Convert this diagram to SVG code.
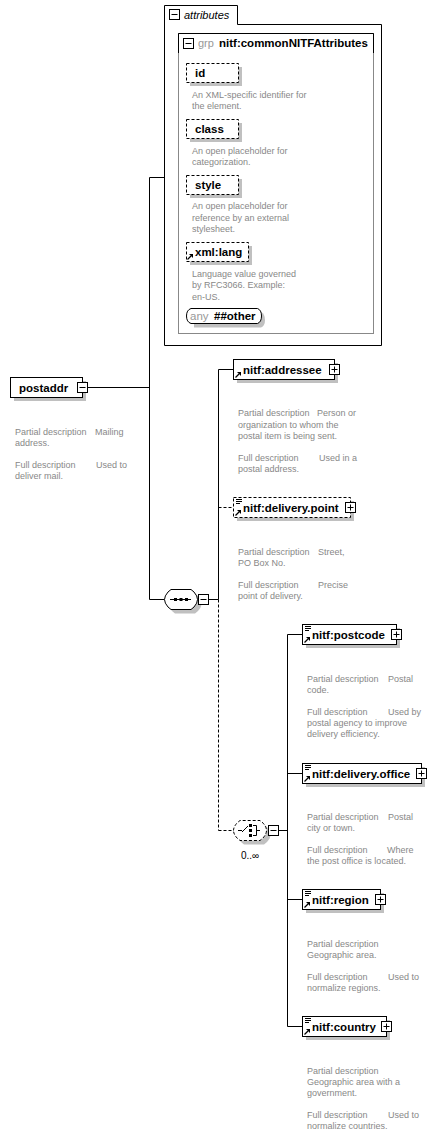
<svg xmlns="http://www.w3.org/2000/svg" width="437" height="1147" viewBox="0 0 437 1147">
<style>
.box{fill:#fff;stroke:#000;stroke-width:1}
.dbox{fill:#fff;stroke:#000;stroke-width:1;stroke-dasharray:3,2}
.sh{fill:#c0c0c0}
.lbl{font-family:"Liberation Sans",Arial,sans-serif;font-weight:bold;font-size:11.5px;fill:#000}
.desc{font-family:"Liberation Sans",Arial,sans-serif;font-size:9px;fill:#888}
.gry{font-family:"Liberation Sans",Arial,sans-serif;font-size:11px;fill:#999}
.ln{stroke:#000;stroke-width:1;fill:none}
.dl{stroke:#000;stroke-width:1;fill:none;stroke-dasharray:3,2}
</style>
<defs>
<g id="minus"><rect x="0.5" y="0.5" width="10" height="10" fill="#fff" stroke="#000"/><line x1="2.5" y1="5.5" x2="8.5" y2="5.5" stroke="#000"/></g>
<g id="plus"><rect x="0.5" y="0.5" width="10" height="10" fill="#fff" stroke="#000"/><line x1="2.5" y1="5.5" x2="8.5" y2="5.5" stroke="#000"/><line x1="5.5" y1="2.5" x2="5.5" y2="8.5" stroke="#000"/></g>
<g id="ref"><line x1="0.5" y1="6.5" x2="4" y2="3" stroke="#000" stroke-width="1.2"/><path d="M2,1 L6,1 L6,5 Z" fill="#000"/></g>
<g id="simp" stroke="#000" stroke-width="1"><line x1="0" y1="0.5" x2="6" y2="0.5"/><line x1="0" y1="2.5" x2="6" y2="2.5"/><line x1="0" y1="4.5" x2="4" y2="4.5"/></g>
</defs>

<g id="connectors">
<line class="ln" x1="87" y1="387.5" x2="149.5" y2="387.5"/>
<line class="ln" x1="149.5" y1="177.5" x2="149.5" y2="599.5"/>
<line class="ln" x1="149.5" y1="177.5" x2="164.5" y2="177.5"/>
<line class="ln" x1="149.5" y1="599.5" x2="164.5" y2="599.5"/>
<line class="ln" x1="209" y1="599.5" x2="218.5" y2="599.5"/>
<line class="ln" x1="218.5" y1="369.5" x2="218.5" y2="599.5"/>
<line class="ln" x1="218.5" y1="369.5" x2="233.5" y2="369.5"/>
<line class="dl" x1="218.5" y1="507.5" x2="233.5" y2="507.5"/>
<line class="dl" x1="218.5" y1="599.5" x2="218.5" y2="830.5"/>
<line class="dl" x1="218.5" y1="830.5" x2="233.5" y2="830.5"/>
<line class="ln" x1="278" y1="830.5" x2="287.5" y2="830.5"/>
<line class="ln" x1="287.5" y1="634.5" x2="287.5" y2="1026.5"/>
<line class="ln" x1="287.5" y1="634.5" x2="302.5" y2="634.5"/>
<line class="ln" x1="287.5" y1="773.5" x2="302.5" y2="773.5"/>
<line class="ln" x1="287.5" y1="899.5" x2="302.5" y2="899.5"/>
<line class="ln" x1="287.5" y1="1026.5" x2="302.5" y2="1026.5"/>
</g>

<g id="attributes">
<path class="box" d="M164.5,345.5 V5.5 H237.5 V24.5 H381.5 V345.5 Z"/>
<use href="#minus" x="169" y="9"/>
<text x="184" y="19" style="font-family:'Liberation Sans',Arial,sans-serif;font-size:11px;font-style:italic;fill:#000">attributes</text>
</g>

<g id="grp-commonNITFAttributes">
<rect x="178.5" y="33.5" width="195" height="300" fill="#fff" stroke="#888"/>
<path class="ln" d="M178.5,53 V33.5 H373.5 V53"/>
<use href="#minus" x="183" y="38"/>
<text class="gry" x="198" y="47">grp</text>
<text class="lbl" x="219" y="47">nitf:commonNITFAttributes</text>
</g>

<g id="attr-id">
<rect class="sh" x="190" y="67" width="52" height="19"/>
<rect class="dbox" x="186.5" y="63.5" width="52" height="19"/>
<text class="lbl" x="195" y="77">id</text>
<text class="desc"><tspan x="192" y="98">An XML-specific identifier for</tspan><tspan x="192" y="109">the element.</tspan></text>
</g>

<g id="attr-class">
<rect class="sh" x="190" y="123" width="52" height="19"/>
<rect class="dbox" x="186.5" y="119.5" width="52" height="19"/>
<text class="lbl" x="195" y="133">class</text>
<text class="desc"><tspan x="192" y="154">An open placeholder for</tspan><tspan x="192" y="165">categorization.</tspan></text>
</g>

<g id="attr-style">
<rect class="sh" x="190" y="179" width="52" height="19"/>
<rect class="dbox" x="186.5" y="175.5" width="52" height="19"/>
<text class="lbl" x="195" y="189">style</text>
<text class="desc"><tspan x="192" y="209">An open placeholder for</tspan><tspan x="192" y="221">reference by an external</tspan><tspan x="192" y="232">stylesheet.</tspan></text>
</g>

<g id="attr-xmllang">
<rect class="sh" x="190" y="246" width="62" height="19"/>
<rect class="dbox" x="186.5" y="242.5" width="62" height="19"/>
<use href="#ref" x="187" y="253"/>
<text class="lbl" x="195" y="256">xml:lang</text>
<text class="desc"><tspan x="192" y="277">Language value governed</tspan><tspan x="192" y="288">by RFC3066. Example:</tspan><tspan x="192" y="300">en-US.</tspan></text>
</g>

<g id="any-other">
<path class="sh" d="M194,312 H261 Q265,314 265,320 Q265,326 261,327.5 H194 Z"/>
<path class="box" d="M191,308.5 H257.5 Q261.5,310 261.5,316 Q261.5,322 257.5,323.5 H191 Q186.5,322 186.5,316 Q186.5,310 191,308.5 Z"/>
<text class="gry" x="190" y="320" style="font-size:11.5px">any</text>
<text class="lbl" x="214" y="320">##other</text>
</g>

<g id="postaddr">
<rect class="sh" x="14" y="381" width="72" height="20"/>
<rect class="box" x="10.5" y="377.5" width="72" height="20"/>
<text class="lbl" x="19" y="392">postaddr</text>
<use href="#minus" x="77" y="382"/>
<text class="desc"><tspan x="15" y="435">Partial description</tspan><tspan x="95" y="435">Mailing</tspan><tspan x="15" y="446">address.</tspan><tspan x="15" y="468">Full description</tspan><tspan x="96" y="468">Used to</tspan><tspan x="15" y="479">deliver mail.</tspan></text>
</g>

<g id="sequence">
<path class="sh" d="M168.5,603.5 Q168.5,600 172,596 L175,593.5 H195 L198,596 Q201.5,600 201.5,603.5 Q201.5,607 198,611 L195,613.5 H175 L172,611 Q168.5,607 168.5,603.5 Z"/>
<path class="box" d="M164.5,599.5 Q164.5,596 168,592 L171,589.5 H191 L194,592 Q197.5,596 197.5,599.5 Q197.5,603 194,607 L191,609.5 H171 L168,607 Q164.5,603 164.5,599.5 Z"/>
<line class="ln" x1="170" y1="599.5" x2="191" y2="599.5"/>
<rect x="174" y="598" width="3" height="3" fill="#000"/>
<rect x="179.5" y="598" width="3" height="3" fill="#000"/>
<rect x="185" y="598" width="3" height="3" fill="#000"/>
<use href="#minus" x="198" y="594"/>
</g>

<g id="addressee">
<rect class="sh" x="237" y="363" width="101" height="20"/>
<rect class="box" x="233.5" y="359.5" width="101" height="20"/>
<use href="#ref" x="235" y="371"/>
<text class="lbl" x="243" y="374">nitf:addressee</text>
<use href="#plus" x="329" y="364"/>
<text class="desc"><tspan x="238" y="416">Partial description</tspan><tspan x="317" y="416">Person or</tspan><tspan x="238" y="428">organization to whom the</tspan><tspan x="238" y="439">postal item is being sent.</tspan><tspan x="238" y="461">Full description</tspan><tspan x="319" y="461">Used in a</tspan><tspan x="238" y="472">postal address.</tspan></text>
</g>

<g id="delivery-point">
<rect class="sh" x="237" y="501" width="117" height="20"/>
<rect class="dbox" x="233.5" y="497.5" width="117" height="20"/>
<use href="#simp" x="236" y="499"/>
<use href="#ref" x="235" y="509"/>
<text class="lbl" x="243" y="512">nitf:delivery.point</text>
<use href="#plus" x="345" y="502"/>
<text class="desc"><tspan x="238" y="555">Partial description</tspan><tspan x="318" y="555">Street,</tspan><tspan x="238" y="566">PO Box No.</tspan><tspan x="238" y="588">Full description</tspan><tspan x="318" y="588">Precise</tspan><tspan x="238" y="599">point of delivery.</tspan></text>
</g>

<g id="choice">
<path class="sh" d="M237.5,834.5 Q237.5,831 241,827 L244,824.5 H264 L267,827 Q270.5,831 270.5,834.5 Q270.5,838 267,842 L264,844.5 H244 L241,842 Q237.5,838 237.5,834.5 Z"/>
<path class="dbox" d="M233.5,830.5 Q233.5,827 237,823 L240,820.5 H260 L263,823 Q266.5,827 266.5,830.5 Q266.5,834 263,838 L260,840.5 H240 L237,838 Q233.5,834 233.5,830.5 Z"/>
<line class="ln" x1="238" y1="830.5" x2="242" y2="830.5"/>
<line class="ln" x1="242" y1="832" x2="248" y2="826"/>
<rect x="249" y="824" width="3" height="3" fill="#000"/>
<rect x="249" y="829" width="3" height="3" fill="#000"/>
<rect x="249" y="834" width="3" height="3" fill="#000"/>
<path class="ln" d="M253,825.5 H256.5 V835.5 H253 M256.5,830.5 H260"/>
<use href="#minus" x="268" y="825"/>
<text x="241" y="859" style="font-family:'Liberation Sans',Arial,sans-serif;font-size:10px;fill:#000">0..∞</text>
</g>

<g id="postcode">
<rect class="sh" x="306" y="628" width="94" height="20"/>
<rect class="box" x="302.5" y="624.5" width="94" height="20"/>
<use href="#simp" x="305" y="626"/>
<use href="#ref" x="304" y="636"/>
<text class="lbl" x="312" y="639">nitf:postcode</text>
<use href="#plus" x="391" y="629"/>
<text class="desc"><tspan x="307" y="682">Partial description</tspan><tspan x="388" y="682">Postal</tspan><tspan x="307" y="693">code.</tspan><tspan x="307" y="715">Full description</tspan><tspan x="388" y="715">Used by</tspan><tspan x="307" y="726">postal agency to improve</tspan><tspan x="307" y="737">delivery efficiency.</tspan></text>
</g>

<g id="delivery-office">
<rect class="sh" x="306" y="767" width="119" height="20"/>
<rect class="box" x="302.5" y="763.5" width="119" height="20"/>
<use href="#simp" x="305" y="765"/>
<use href="#ref" x="304" y="775"/>
<text class="lbl" x="312" y="778">nitf:delivery.office</text>
<use href="#plus" x="416" y="768"/>
<text class="desc"><tspan x="307" y="820">Partial description</tspan><tspan x="388" y="820">Postal</tspan><tspan x="307" y="831">city or town.</tspan><tspan x="307" y="853">Full description</tspan><tspan x="387" y="853">Where</tspan><tspan x="307" y="864">the post office is located.</tspan></text>
</g>

<g id="region">
<rect class="sh" x="306" y="893" width="78" height="20"/>
<rect class="box" x="302.5" y="889.5" width="78" height="20"/>
<use href="#simp" x="305" y="891"/>
<use href="#ref" x="304" y="901"/>
<text class="lbl" x="312" y="904">nitf:region</text>
<use href="#plus" x="375" y="894"/>
<text class="desc"><tspan x="307" y="947">Partial description</tspan><tspan x="307" y="958">Geographic area.</tspan><tspan x="307" y="980">Full description</tspan><tspan x="388" y="980">Used to</tspan><tspan x="307" y="991">normalize regions.</tspan></text>
</g>

<g id="country">
<rect class="sh" x="306" y="1020" width="84" height="20"/>
<rect class="box" x="302.5" y="1016.5" width="84" height="20"/>
<use href="#simp" x="305" y="1018"/>
<use href="#ref" x="304" y="1028"/>
<text class="lbl" x="312" y="1031">nitf:country</text>
<use href="#plus" x="381" y="1021"/>
<text class="desc"><tspan x="307" y="1074">Partial description</tspan><tspan x="307" y="1085">Geographic area with a</tspan><tspan x="307" y="1096">government.</tspan><tspan x="307" y="1118">Full description</tspan><tspan x="388" y="1118">Used to</tspan><tspan x="307" y="1129">normalize countries.</tspan></text>
</g>
</svg>
